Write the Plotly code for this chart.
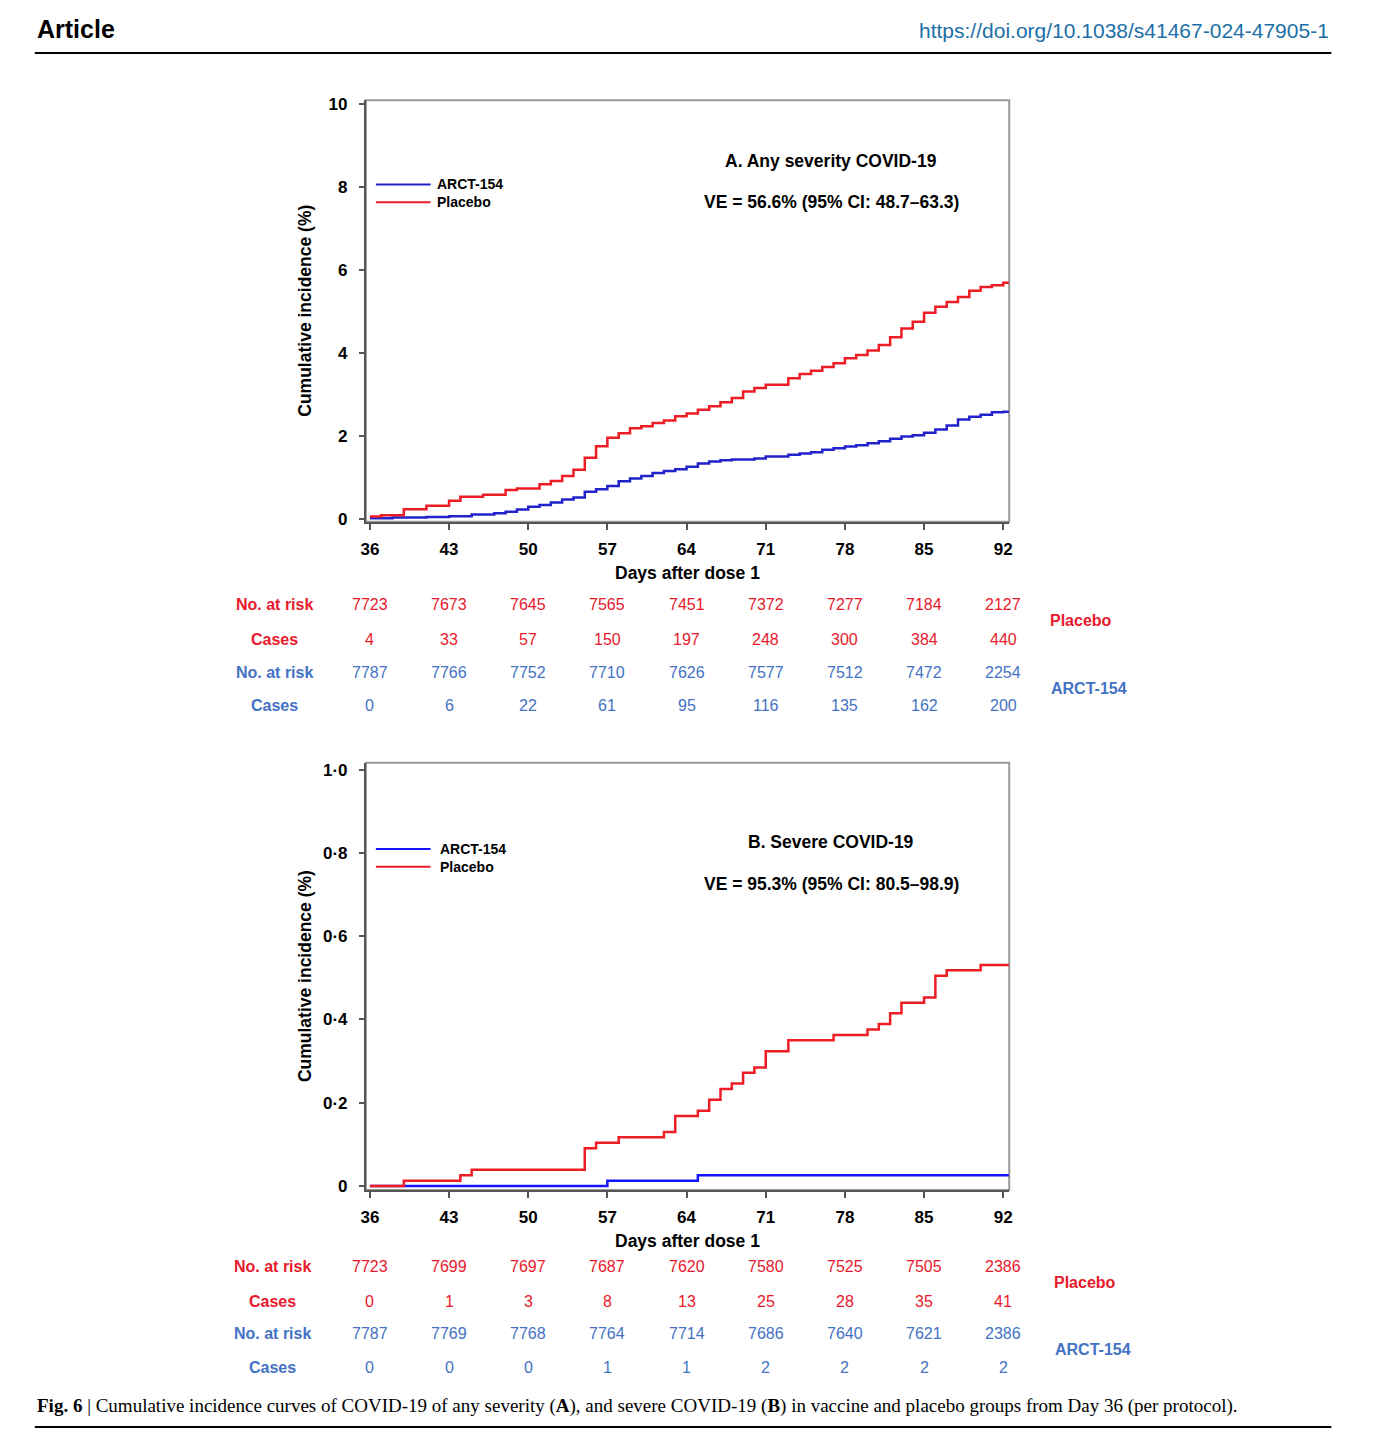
import plotly.graph_objects as go

# ---------------- data ----------------
day_ticks = [36, 43, 50, 57, 64, 71, 78, 85, 92]
followup_end = 92.5

# Panel A: any severity (cumulative incidence, %)
a_placebo_days = [36, 37, 39, 41, 43, 44, 46, 48, 49, 51, 52, 53, 54, 55, 56, 57, 58, 59, 60, 61,
                  62, 63, 64, 65, 66, 67, 68, 69, 70, 71, 73, 74, 75, 76, 77, 78, 79, 80, 81, 82,
                  83, 84, 85, 86, 87, 88, 89, 90, 91, 92]
a_placebo_inc = [0.05, 0.08, 0.23, 0.31, 0.43, 0.53, 0.58, 0.69, 0.73, 0.83, 0.91, 1.03, 1.18, 1.47,
                 1.75, 1.95, 2.06, 2.18, 2.23, 2.31, 2.37, 2.47, 2.54, 2.63, 2.71, 2.81, 2.91, 3.07,
                 3.15, 3.23, 3.39, 3.49, 3.57, 3.66, 3.75, 3.87, 3.95, 4.06, 4.19, 4.38, 4.59, 4.75,
                 4.97, 5.11, 5.23, 5.35, 5.50, 5.59, 5.63, 5.69]
a_arct_days = [36, 38, 41, 43, 45, 47, 48, 49, 50, 51, 52, 53, 54, 55, 56, 57, 58, 59, 60, 61,
               62, 63, 64, 65, 66, 67, 68, 70, 71, 73, 74, 75, 76, 77, 78, 79, 80, 81, 82, 83,
               84, 85, 86, 87, 88, 89, 90, 91, 92]
a_arct_inc = [0.01, 0.03, 0.04, 0.06, 0.10, 0.13, 0.17, 0.22, 0.29, 0.33, 0.39, 0.46, 0.51, 0.65,
              0.71, 0.79, 0.90, 0.97, 1.03, 1.10, 1.15, 1.19, 1.25, 1.33, 1.38, 1.41, 1.43, 1.45,
              1.50, 1.54, 1.57, 1.60, 1.66, 1.70, 1.74, 1.77, 1.82, 1.87, 1.93, 1.98, 2.01, 2.07,
              2.15, 2.25, 2.39, 2.46, 2.51, 2.57, 2.58]

# Panel B: severe (cumulative incidence, %)
b_placebo_days = [36, 39, 44, 45, 55, 56, 58, 62, 63, 65, 66, 67, 68, 69, 70, 71, 73, 77, 80, 81,
                  82, 83, 85, 86, 87, 90]
b_placebo_inc = [0, 0.013, 0.026, 0.039, 0.091, 0.104, 0.117, 0.130, 0.168, 0.181, 0.207, 0.233,
                 0.246, 0.272, 0.285, 0.324, 0.350, 0.363, 0.376, 0.389, 0.415, 0.440, 0.453,
                 0.505, 0.518, 0.531]
b_arct_days = [36, 57, 65]
b_arct_inc = [0, 0.013, 0.026]

# Risk tables
a_placebo_risk = [7723, 7673, 7645, 7565, 7451, 7372, 7277, 7184, 2127]
a_placebo_cases = [4, 33, 57, 150, 197, 248, 300, 384, 440]
a_arct_risk = [7787, 7766, 7752, 7710, 7626, 7577, 7512, 7472, 2254]
a_arct_cases = [0, 6, 22, 61, 95, 116, 135, 162, 200]
b_placebo_risk = [7723, 7699, 7697, 7687, 7620, 7580, 7525, 7505, 2386]
b_placebo_cases = [0, 1, 3, 8, 13, 25, 28, 35, 41]
b_arct_risk = [7787, 7769, 7768, 7764, 7714, 7686, 7640, 7621, 2386]
b_arct_cases = [0, 0, 0, 1, 1, 2, 2, 2, 2]

a_yticks = [0, 2, 4, 6, 8, 10]
a_yticklabels = ["0", "2", "4", "6", "8", "10"]
b_yticks = [0, 0.2, 0.4, 0.6, 0.8, 1.0]
b_yticklabels = ["0", "0·2", "0·4", "0·6", "0·8", "1·0"]

# ---------------- style ----------------
W, H = 1400, 1440
RED = "#ee1c25"
BLUE_A = "#2222cc"
BLUE_B = "#1414ff"
TRED = "#e8192c"
TBLUE = "#4472c4"
SANS = "Liberation Sans, Arial, sans-serif"
SERIF = "Liberation Serif, Times New Roman, serif"


def py(p):
    return 1 - p / H


def px(p):
    return p / W


fig = go.Figure()


def ext(days, inc):
    return days + [followup_end], inc + [inc[-1]]


for (d, v, col, xa, ya, name) in [
    (a_arct_days, a_arct_inc, BLUE_A, "x", "y", "ARCT-154"),
    (a_placebo_days, a_placebo_inc, RED, "x", "y", "Placebo"),
    (b_arct_days, b_arct_inc, BLUE_B, "x2", "y2", "ARCT-154"),
    (b_placebo_days, b_placebo_inc, RED, "x2", "y2", "Placebo"),
]:
    xx, yy = ext(d, v)
    fig.add_trace(go.Scatter(x=xx, y=yy, mode="lines", line=dict(color=col, width=2.5, shape="hv"),
                             xaxis=xa, yaxis=ya, name=name, showlegend=False, hoverinfo="skip"))

xdom = [px(363), px(1010)]
xrange = [35.65, 92.53]
axis_common = dict(showgrid=False, zeroline=False, showline=True, linecolor="#555555", linewidth=2,
                   ticks="outside", tickcolor="#555555", tickwidth=1.5,
                   tickfont=dict(family=SANS, size=17, color="black", weight="bold"))

fig.update_layout(
    width=W, height=H, margin=dict(l=0, r=0, t=0, b=0),
    paper_bgcolor="white", plot_bgcolor="white",
    xaxis=dict(domain=xdom, range=xrange, tickvals=day_ticks, ticklen=6, ticklabelstandoff=5,
               anchor="y", **axis_common),
    yaxis=dict(domain=[py(521), py(96)], range=[-0.072, 10.096], tickvals=a_yticks,
               ticktext=a_yticklabels, ticklen=5, ticklabelstandoff=8, anchor="x", **axis_common),
    xaxis2=dict(domain=xdom, range=xrange, tickvals=day_ticks, ticklen=6, ticklabelstandoff=5,
                anchor="y2", **axis_common),
    yaxis2=dict(domain=[py(1195), py(764)], range=[-0.0095, 1.0167], tickvals=b_yticks,
                ticktext=b_yticklabels, ticklen=5, ticklabelstandoff=8, anchor="x2", **axis_common),
)

shapes = []
# lighter top/right frame
for xr, yr in [("x domain", "y domain"), ("x2 domain", "y2 domain")]:
    shapes.append(dict(type="rect", xref=xr, yref=yr, x0=0, x1=1, y0=0, y1=1,
                       line=dict(color="#999999", width=2), layer="below"))
# header and footer rules
shapes.append(dict(type="line", xref="paper", yref="paper", x0=px(30), x1=px(1334), y0=py(48.5), y1=py(48.5),
                   line=dict(color="black", width=2)))
shapes.append(dict(type="line", xref="paper", yref="paper", x0=px(30), x1=px(1334), y0=py(1434), y1=py(1434),
                   line=dict(color="black", width=2)))
# legend lines
for (ly, col) in [(181, BLUE_A), (199, RED), (851, BLUE_B), (869, RED)]:
    shapes.append(dict(type="line", xref="paper", yref="paper", x0=px(373), x1=px(428), y0=py(ly), y1=py(ly),
                       line=dict(color=col, width=2)))

ann = []


def text(x, y, s, size=16, color="black", bold=False, xanchor="center", family=SANS, angle=0, xref="paper"):
    ann.append(dict(x=x if xref != "paper" else px(x), y=py(y), xref=xref, yref="paper", text=s,
                    showarrow=False, xanchor=xanchor, yanchor="middle", textangle=angle,
                    font=dict(family=family, size=size, color=color, weight="bold" if bold else "normal")))


# header
text(30, 24, "Article", size=25, bold=True, xanchor="left")
text(1334, 26, "https://doi.org/10.1038/s41467-024-47905-1", size=21, color="#1c6fa6", xanchor="right")

# panel titles
text(831, 157, "A. Any severity COVID-19", size=17.5, bold=True)
text(831, 199, "VE = 56.6% (95% CI: 48.7–63.3)", size=17.5, bold=True)
text(831, 844, "B. Severe COVID-19", size=17.5, bold=True)
text(831, 886, "VE = 95.3% (95% CI: 80.5–98.9)", size=17.5, bold=True)

# legends
text(432, 181, "ARCT-154", size=14, bold=True, xanchor="left")
text(432, 199, "Placebo", size=14, bold=True, xanchor="left")
text(435, 851, "ARCT-154", size=14, bold=True, xanchor="left")
text(435, 869, "Placebo", size=14, bold=True, xanchor="left")

# axis titles
text(686, 573, "Days after dose 1", size=17.5, bold=True)
text(686, 1246, "Days after dose 1", size=17.5, bold=True)
text(302, 308, "Cumulative incidence (%)", size=17.5, bold=True, angle=-90)
text(302, 979, "Cumulative incidence (%)", size=17.5, bold=True, angle=-90)

# risk tables
for (rows, ys, labx, grp) in [
    ([(a_placebo_risk, "No. at risk", TRED), (a_placebo_cases, "Cases", TRED),
      (a_arct_risk, "No. at risk", TBLUE), (a_arct_cases, "Cases", TBLUE)],
     [605, 640, 673, 706], 271, [(1082, 621, "Placebo", TRED), (1090, 689, "ARCT-154", TBLUE)]),
    ([(b_placebo_risk, "No. at risk", TRED), (b_placebo_cases, "Cases", TRED),
      (b_arct_risk, "No. at risk", TBLUE), (b_arct_cases, "Cases", TBLUE)],
     [1272, 1307, 1340, 1374], 269, [(1086, 1288, "Placebo", TRED), (1094, 1356, "ARCT-154", TBLUE)]),
]:
    for (vals, lab, col), yy in zip(rows, ys):
        text(labx, yy, lab, size=16, bold=True, color=col)
        for d, v in zip(day_ticks, vals):
            text(d, yy, str(v), size=16, color=col, xref="x")
    for (gx, gy, gl, gc) in grp:
        text(gx, gy, gl, size=16, bold=True, color=gc)

# caption
text(30, 1413, "<b>Fig. 6</b> | Cumulative incidence curves of COVID-19 of any severity (<b>A</b>), "
     "and severe COVID-19 (<b>B</b>) in vaccine and placebo groups from Day 36 (per protocol).",
     size=19, family=SERIF, xanchor="left")

fig.update_layout(shapes=shapes, annotations=ann)
fig.write_html(
    "out.html",
    config={"displayModeBar": False},
    post_script=("document.documentElement.style.margin='0';document.body.style.margin='0';"
                 "document.documentElement.style.overflow='hidden';document.body.style.overflow='hidden';"),
)
